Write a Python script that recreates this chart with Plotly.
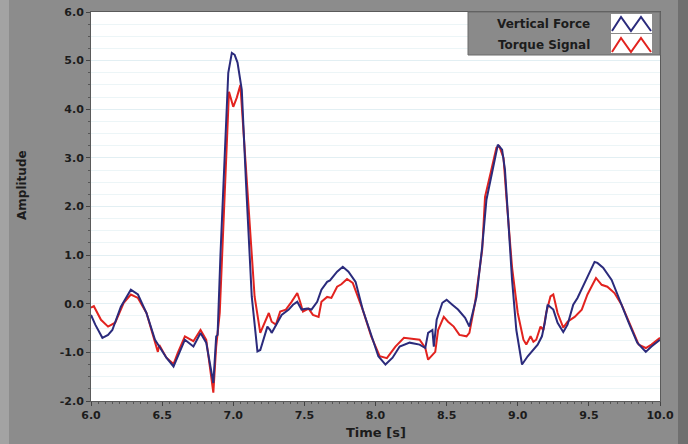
import plotly.graph_objects as go

# ---- data ----
force_t = [6.00, 6.03, 6.08, 6.12, 6.15, 6.21, 6.28, 6.33, 6.39, 6.45, 6.48, 6.53, 6.58, 6.61,
           6.66, 6.72, 6.77, 6.81, 6.86, 6.88, 6.89, 6.91, 6.94, 6.965, 6.99, 7.01, 7.03, 7.06,
           7.09, 7.12, 7.13, 7.17, 7.19, 7.24, 7.26, 7.27, 7.31, 7.34, 7.39, 7.42, 7.45, 7.48,
           7.52, 7.55, 7.59, 7.62, 7.66, 7.68, 7.73, 7.77, 7.81, 7.86, 7.91, 7.97, 8.02, 8.07,
           8.12, 8.17, 8.24, 8.31, 8.35, 8.37, 8.40, 8.41, 8.43, 8.47, 8.50, 8.54, 8.58, 8.63,
           8.66, 8.71, 8.75, 8.78, 8.82, 8.84, 8.86, 8.89, 8.91, 8.93, 8.96, 8.99, 9.03, 9.07,
           9.11, 9.14, 9.17, 9.19, 9.21, 9.25, 9.28, 9.32, 9.35, 9.39, 9.42, 9.47, 9.51, 9.54,
           9.56, 9.60, 9.66, 9.72, 9.78, 9.84, 9.90, 9.94, 10.0]
force = [-0.23, -0.43, -0.70, -0.64, -0.54, -0.06, 0.29, 0.19, -0.19, -0.74, -0.88, -1.11, -1.29, -1.08,
         -0.74, -0.88, -0.60, -0.80, -1.63, -0.67, -0.64, 1.00, 3.10, 4.75, 5.16, 5.12, 4.96, 4.40,
         2.47, 0.53, 0.15, -0.98, -0.95, -0.47, -0.54, -0.60, -0.39, -0.23, -0.12, -0.02, 0.04, -0.12,
         -0.10, -0.12, 0.04, 0.29, 0.45, 0.48, 0.66, 0.76, 0.66, 0.45, -0.12, -0.67, -1.08, -1.25,
         -1.11, -0.88, -0.80, -0.84, -0.91, -0.60, -0.54, -0.88, -0.33, 0.02, 0.08, -0.02, -0.12, -0.29,
         -0.47, 0.14, 1.17, 2.14, 2.70, 2.96, 3.27, 3.17, 2.76, 1.87, 0.49, -0.54, -1.25, -1.08,
         -0.95, -0.84, -0.67, -0.39, -0.02, -0.12, -0.39, -0.58, -0.43, -0.02, 0.12, 0.43, 0.70, 0.86,
         0.84, 0.74, 0.49, 0.04, -0.39, -0.80, -0.99, -0.88, -0.74]

torque_t = [6.00, 6.02, 6.07, 6.12, 6.17, 6.23, 6.28, 6.33, 6.39, 6.45, 6.47, 6.48, 6.53, 6.58,
            6.61, 6.66, 6.72, 6.77, 6.81, 6.86, 6.88, 6.905, 6.93, 6.95, 6.97, 7.00, 7.025, 7.05,
            7.07, 7.10, 7.12, 7.15, 7.19, 7.21, 7.25, 7.27, 7.30, 7.33, 7.37, 7.41, 7.45, 7.47,
            7.49, 7.53, 7.56, 7.60, 7.62, 7.66, 7.69, 7.73, 7.76, 7.80, 7.84, 7.91, 7.97, 8.03,
            8.08, 8.14, 8.20, 8.31, 8.35, 8.37, 8.40, 8.42, 8.44, 8.48, 8.51, 8.55, 8.59, 8.64,
            8.66, 8.70, 8.75, 8.77, 8.81, 8.85, 8.87, 8.90, 8.92, 8.96, 9.00, 9.04, 9.06, 9.09,
            9.11, 9.13, 9.16, 9.18, 9.20, 9.23, 9.25, 9.28, 9.32, 9.35, 9.40, 9.45, 9.49, 9.53,
            9.55, 9.59, 9.63, 9.68, 9.73, 9.79, 9.85, 9.90, 9.94, 10.0]
torque = [-0.08, -0.05, -0.33, -0.47, -0.39, 0.02, 0.19, 0.12, -0.19, -0.81, -0.99, -0.85, -1.11, -1.24,
          -1.01, -0.67, -0.77, -0.54, -0.74, -1.83, -0.88, -0.19, 1.52, 3.00, 4.36, 4.05, 4.24, 4.50,
          3.64, 2.30, 1.40, 0.15, -0.60, -0.47, -0.19, -0.37, -0.43, -0.16, -0.12, 0.04, 0.22, 0.04,
          -0.16, -0.10, -0.23, -0.27, 0.04, 0.14, 0.12, 0.35, 0.40, 0.51, 0.43, -0.12, -0.67, -1.08,
          -1.12, -0.88, -0.70, -0.74, -0.91, -1.15, -1.05, -0.99, -0.54, -0.27, -0.37, -0.47, -0.64, -0.67,
          -0.60, 0.02, 1.11, 2.20, 2.70, 3.21, 3.24, 3.00, 2.20, 0.75, -0.19, -0.74, -0.84, -0.67,
          -0.78, -0.74, -0.47, -0.54, -0.19, 0.15, 0.19, -0.19, -0.49, -0.37, -0.27, -0.12, 0.19, 0.43,
          0.53, 0.39, 0.35, 0.22, -0.02, -0.43, -0.84, -0.91, -0.84, -0.70]

series_names = ["Vertical Force", "Torque Signal"]
x_ticks = [6.0, 6.5, 7.0, 7.5, 8.0, 8.5, 9.0, 9.5, 10.0]
y_ticks = [-2.0, -1.0, 0.0, 1.0, 2.0, 3.0, 4.0, 5.0, 6.0]

BLUE = "#2b2b7c"
RED = "#e2231f"
GRAY = "#8c8c8c"
TXT = "#1c1c1c"
FONT = "DejaVu Sans"

fig = go.Figure()
fig.add_trace(go.Scatter(x=torque_t, y=torque, mode="lines", name=series_names[1],
                         line=dict(color=RED, width=2)))
fig.add_trace(go.Scatter(x=force_t, y=force, mode="lines", name=series_names[0],
                         line=dict(color=BLUE, width=2)))

W, H = 688, 444
ml, mr, mt, mb = 91, 28, 12, 43
pw, ph = W - ml - mr, H - mt - mb


def px(xp):
    return (xp - ml) / pw


def py(yp):
    return (H - mb - yp) / ph


shapes = []
# frame bands
shapes.append(dict(type="rect", xref="paper", yref="paper", x0=px(678), x1=px(690), y0=py(446), y1=py(-2),
                   fillcolor="#6f6f6f", line=dict(width=0), layer="below"))
shapes.append(dict(type="rect", xref="paper", yref="paper", x0=px(-2), x1=px(9), y0=py(446), y1=py(-2),
                   fillcolor="#a3a3a3", line=dict(width=0), layer="below"))
# legend box
shapes.append(dict(type="rect", xref="paper", yref="paper", x0=px(468), x1=px(660), y0=py(55), y1=py(12),
                   fillcolor="#8a8a8a", line=dict(color="#6a6a6a", width=1)))
# icon boxes
for y0i, y1i in [(14, 33), (34, 53)]:
    shapes.append(dict(type="rect", xref="paper", yref="paper", x0=px(611), x1=px(652), y0=py(y1i), y1=py(y0i),
                       fillcolor="white", line=dict(width=0)))


def zigzag(top, bot):
    xs = [612, 621, 631, 641, 651]
    ys = [bot, top, bot, top, bot]
    return "M " + " L ".join(f"{px(a):.4f},{py(b):.4f}" for a, b in zip(xs, ys))


shapes.append(dict(type="path", xref="paper", yref="paper", path=zigzag(17, 31),
                   line=dict(color=BLUE, width=2)))
shapes.append(dict(type="path", xref="paper", yref="paper", path=zigzag(38, 52),
                   line=dict(color=RED, width=2)))

annotations = [
    dict(text="<b>Vertical Force</b>", xref="paper", yref="paper", x=px(592), y=py(24),
         xanchor="right", yanchor="middle", showarrow=False, font=dict(family=FONT, size=12, color=TXT)),
    dict(text="<b>Torque Signal</b>", xref="paper", yref="paper", x=px(592), y=py(45),
         xanchor="right", yanchor="middle", showarrow=False, font=dict(family=FONT, size=12, color=TXT)),
    dict(text="<b>Amplitude</b>", xref="paper", yref="paper", x=px(22), y=py(185),
         xanchor="center", yanchor="middle", textangle=-90, showarrow=False,
         font=dict(family=FONT, size=12, color=TXT)),
    dict(text="<b>Time [s]</b>", xref="paper", yref="paper", x=px(376), y=py(432),
         xanchor="center", yanchor="middle", showarrow=False,
         font=dict(family=FONT, size=13, color=TXT)),
]

axis_common = dict(
    showline=True, linecolor="#5a5a5a", linewidth=1, mirror=True, automargin=False,
    ticks="outside", ticklen=4, tickcolor="#444", zeroline=False,
    tickfont=dict(family=FONT, size=11, color=TXT, weight="bold"),
)

fig.update_layout(
    width=W, height=H,
    margin=dict(l=ml, r=mr, t=mt, b=mb),
    paper_bgcolor=GRAY, plot_bgcolor="white",
    showlegend=False,
    shapes=shapes, annotations=annotations,
    xaxis=dict(range=[6.0, 10.0], tickvals=x_ticks, ticktext=[f"{v:.1f}" for v in x_ticks],
               showgrid=False,
               minor=dict(dtick=0.05, ticks="outside", ticklen=2, tickcolor="#555", showgrid=False),
               **axis_common),
    yaxis=dict(range=[-2.0, 6.0], tickvals=y_ticks, ticktext=[f"{v:.1f}" for v in y_ticks],
               showgrid=True, gridcolor="#e2eff3", gridwidth=1,
               minor=dict(dtick=0.25, ticks="outside", ticklen=2, tickcolor="#555",
                          showgrid=True, gridcolor="#ecf5f7", gridwidth=1),
               **axis_common),
)

fig.write_html("out.html", config={"displayModeBar": False},
               post_script="document.body.style.margin='0';document.body.style.background='" + GRAY + "';")
